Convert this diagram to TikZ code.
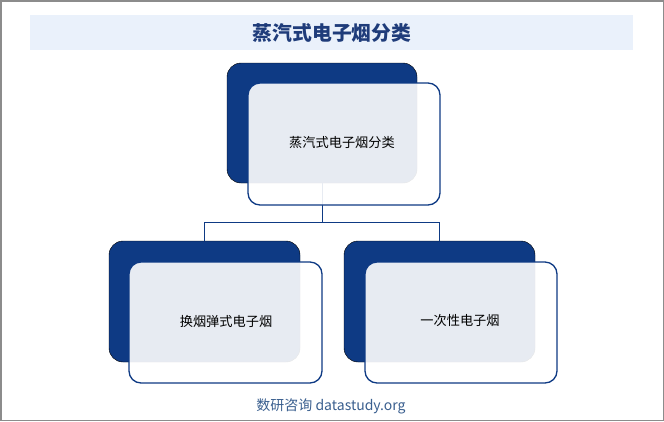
\documentclass[tikz,border=0pt]{standalone}
\usepackage{fontspec}
\setmainfont{Noto Sans CJK SC}
\newfontfamily\cjk{Noto Sans CJK SC}
\definecolor{navy}{HTML}{0E3A84}
\definecolor{band}{HTML}{EAF1FB}
\definecolor{titleblue}{HTML}{1F3C7A}
\definecolor{footblue}{HTML}{3A5F8F}
\definecolor{frame}{HTML}{8C8C8C}
\tikzset{
  backbox/.style={fill=navy, rounded corners=14pt},
  frontbox/.style={draw=navy, line width=1.3pt, fill=white, fill opacity=0.9, draw opacity=1, text opacity=1, rounded corners=12pt},
  boxtext/.style={font=\cjk\fontsize{13.2}{15}\selectfont, text=black},
  link/.style={draw=navy, line width=1pt},
}
\begin{document}
\begin{tikzpicture}[x=1pt,y=-1pt]
\useasboundingbox (0,0) rectangle (664,421);
\fill[white] (0,0) rectangle (664,421);
\draw[frame, line width=1.5pt] (0.75,0.75) rectangle (663.25,420.25);
% title
\fill[band] (30,15) rectangle (633,50);
\node[font=\cjk\bfseries\fontsize{19.8}{22}\selectfont, text=titleblue] (title) at (332,33) {蒸汽式电子烟分类};
% back boxes
\draw[backbox] (227,63) rectangle (417,183);
\coordinate (topb) at (322,183);
\draw[backbox] (109,241) rectangle (300,362);
\draw[backbox] (344,241) rectangle (535,362);
\coordinate (lt) at (204.5,241);
\coordinate (rt) at (439.5,241);
\coordinate (lj) at (204.5,222);
\coordinate (rj) at (439.5,222);
\coordinate (mj) at (322,222);
% connectors
\draw[link] (topb) -- (mj);
\draw[link] (lt) -- (lj) -- (rj) -- (rt);
% front boxes
\draw[frontbox] (248,83) rectangle (440,205);
\draw[frontbox] (129,262) rectangle (322,383);
\draw[frontbox] (365,262) rectangle (557,383);
% texts
\node[boxtext] (t0) at (342,143) {蒸汽式电子烟分类};
\node[boxtext] (t1) at (226,321) {换烟弹式电子烟};
\node[boxtext] (t2) at (460,321) {一次性电子烟};
% footer
\node[font=\cjk\fontsize{14}{16}\selectfont, text=footblue] (foot) at (331,406) {数研咨询 datastudy.org};
\end{tikzpicture}
\end{document}
